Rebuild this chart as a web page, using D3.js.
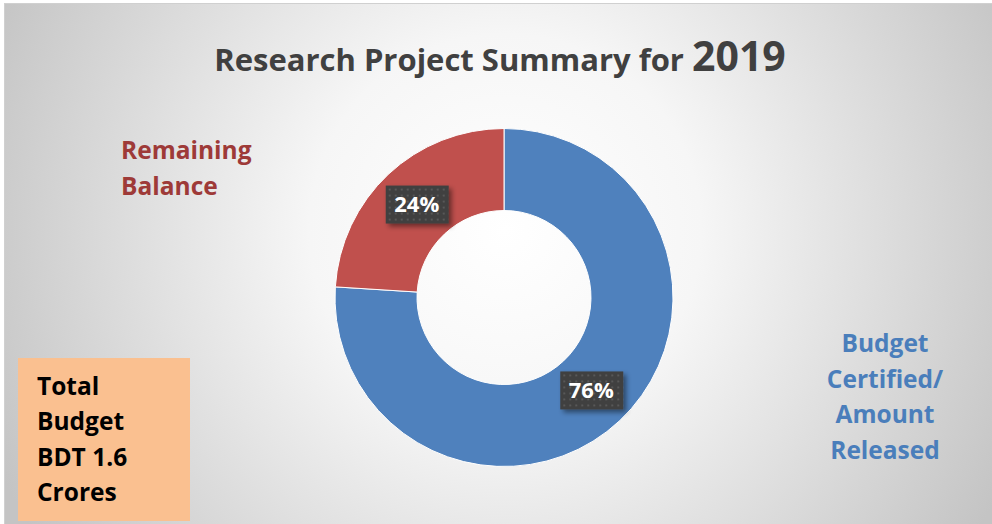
<!DOCTYPE html>
<html>
<head>
<meta charset="utf-8">
<script src="https://cdn.jsdelivr.net/npm/d3@7"></script>
<style>
  body { margin: 0; background: #fff; }
  svg { display: block; }
  text { font-family: "Open Sans", Lato, sans-serif; font-weight: bold; }
</style>
</head>
<body>
<script>
// donut chart: research project summary

var width = 992,
	height = 524;

var categories = ["Budget Certified/ Amount Released", "Remaining Balance"];
var values = [76, 24];
var colors = ["#4f81bd", "#c0504d"];
var labelLines = [["Budget", "Certified/", "Amount", "Released"], ["Remaining", "Balance"]];
var labelColors = ["#4a7ebb", "#9e3a38"];
var boxLines = ["Total", "Budget", "BDT 1.6", "Crores"];

var svg = d3.select("body").append("svg")
	.attr("width", width)
	.attr("height", height);

var defs = svg.append("defs");

// background gradient
var grad = defs.append("radialGradient")
	.attr("id", "bg")
	.attr("gradientUnits", "userSpaceOnUse")
	.attr("cx", 505).attr("cy", 230)
	.attr("r", 560);
grad.append("stop").attr("offset", "0").attr("stop-color", "#ffffff");
grad.append("stop").attr("offset", "0.35").attr("stop-color", "#f6f6f6");
grad.append("stop").attr("offset", "1").attr("stop-color", "#c4c4c4");

// dotted pattern for the value boxes
var pat = defs.append("pattern")
	.attr("id", "dots")
	.attr("patternUnits", "userSpaceOnUse")
	.attr("width", 6).attr("height", 6);
pat.append("rect").attr("width", 6).attr("height", 6).attr("fill", "#3f3f3f");
pat.append("rect").attr("x", 2).attr("y", 2).attr("width", 2).attr("height", 2).attr("fill", "#585858");

var shadow = defs.append("filter").attr("id", "shadow")
	.attr("x", "-20%").attr("y", "-20%").attr("width", "150%").attr("height", "160%");
shadow.append("feDropShadow")
	.attr("dx", 3).attr("dy", 3).attr("stdDeviation", 2.5)
	.attr("flood-color", "#000").attr("flood-opacity", 0.45);

// frame
svg.append("rect")
	.attr("x", 4.5).attr("y", 3.5)
	.attr("width", 1000).attr("height", 540)
	.attr("fill", "url(#bg)")
	.attr("stroke", "#d0d0d0")
	.attr("stroke-width", 1);

// title
var title = svg.append("text")
	.attr("x", 500)
	.attr("y", 71)
	.attr("text-anchor", "middle")
	.attr("fill", "#404040");
title.append("tspan").attr("font-size", 31).text("Research Project Summary for ");
title.append("tspan").attr("font-size", 41).text("2019");

// donut
var cx = 504, cy = 297.5,
	outerR = 169, innerR = 87;

var pie = d3.pie().sort(null).value(function(d){ return d; });
var arc = d3.arc().innerRadius(innerR).outerRadius(outerR);
var labelArc = d3.arc().innerRadius(127.5).outerRadius(127.5);

var g = svg.append("g").attr("transform", "translate(" + cx + "," + cy + ")");
var arcs = pie(values);

g.selectAll(".slice")
	.data(arcs)
	.enter().append("path")
	.classed("slice", true)
	.attr("d", arc)
	.attr("fill", function(d, i){ return colors[i]; })
	.attr("stroke", "#ffffff")
	.attr("stroke-width", 1);

// value labels
var lab = g.selectAll(".val")
	.data(arcs)
	.enter().append("g")
	.classed("val", true)
	.attr("transform", function(d){
		var c = labelArc.centroid(d);
		return "translate(" + c[0] + "," + c[1] + ")";
	});

lab.append("rect")
	.attr("x", -31).attr("y", -19)
	.attr("width", 63).attr("height", 38)
	.attr("fill", "url(#dots)")
	.attr("filter", "url(#shadow)");

lab.append("text")
	.attr("text-anchor", "middle")
	.attr("dy", "0.36em")
	.attr("font-size", 22)
	.attr("fill", "#ffffff")
	.text(function(d){ return d.data + "%"; });

// category labels
var blue = svg.append("text")
	.attr("text-anchor", "middle")
	.attr("font-size", 24.5)
	.attr("fill", labelColors[0]);
blue.selectAll("tspan")
	.data(labelLines[0])
	.enter().append("tspan")
	.attr("x", 885)
	.attr("y", function(d, i){ return 352 + i * 35.5; })
	.text(function(d){ return d; });

var red = svg.append("text")
	.attr("text-anchor", "start")
	.attr("font-size", 24.5)
	.attr("fill", labelColors[1]);
red.selectAll("tspan")
	.data(labelLines[1])
	.enter().append("tspan")
	.attr("x", 121)
	.attr("y", function(d, i){ return 159 + i * 35.5; })
	.text(function(d){ return d; });

// total budget box
svg.append("rect")
	.attr("x", 18).attr("y", 358)
	.attr("width", 172).attr("height", 163)
	.attr("fill", "#fac090");

var box = svg.append("text")
	.attr("font-size", 24.5)
	.attr("fill", "#000000");
box.selectAll("tspan")
	.data(boxLines)
	.enter().append("tspan")
	.attr("x", 37)
	.attr("y", function(d, i){ return 395 + i * 35.3; })
	.text(function(d){ return d; });
</script>
</body>
</html>
